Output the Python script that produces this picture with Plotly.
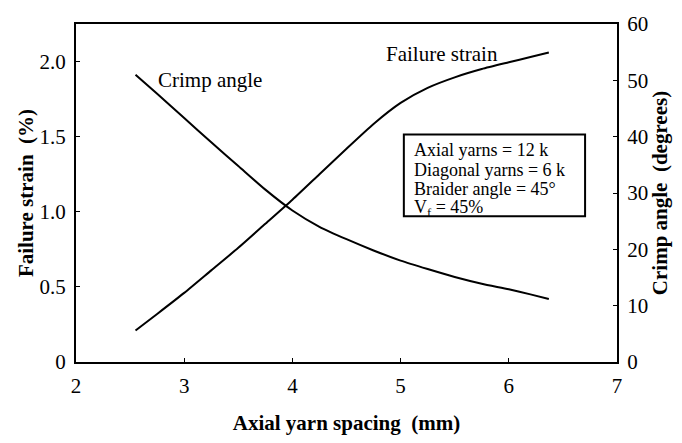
import plotly.graph_objects as go

# Axial yarn spacing (mm)
spacing = [2.55, 2.75, 3.0, 3.25, 3.5, 3.75, 4.0, 4.25, 4.5, 4.75, 5.0, 5.25, 5.5, 5.75, 6.0, 6.2, 6.37]
# Failure strain (%)
failure_strain = [0.21, 0.32, 0.46, 0.61, 0.76, 0.92, 1.08, 1.25, 1.42, 1.585, 1.725, 1.825, 1.895, 1.95, 1.995, 2.03, 2.06]
# Crimp angle (degrees)
crimp_angle = [51.0, 47.6, 43.3, 39.0, 34.8, 30.6, 26.9, 24.0, 21.8, 19.8, 18.0, 16.5, 15.1, 13.9, 12.9, 12.0, 11.2]

x_ticks = [2, 3, 4, 5, 6, 7]
strain_ticks = [0, 0.5, 1.0, 1.5, 2.0]
strain_tick_text = ["0", "0.5", "1.0", "1.5", "2.0"]
angle_ticks = [0, 10, 20, 30, 40, 50, 60]

info_lines = [
    "Axial yarns = 12 k",
    "Diagonal yarns = 6 k",
    "Braider angle = 45°",
    "V<sub>f</sub> = 45%",
]

SERIF = "Liberation Serif, Times New Roman, serif"

fig = go.Figure()
fig.add_trace(go.Scatter(
    x=spacing, y=failure_strain, mode="lines", yaxis="y",
    line=dict(color="black", width=2, shape="spline", smoothing=0.6),
    showlegend=False, hoverinfo="skip",
))
fig.add_trace(go.Scatter(
    x=spacing, y=crimp_angle, mode="lines", yaxis="y2",
    line=dict(color="black", width=2, shape="spline", smoothing=0.6),
    showlegend=False, hoverinfo="skip",
))

axis_common = dict(
    showgrid=False, zeroline=False, showline=True, linecolor="black", linewidth=2,
    ticks="inside", ticklen=4, tickwidth=1, tickcolor="black",
    tickfont=dict(family=SERIF, size=21, color="black"),
)

fig.update_layout(
    width=682, height=443,
    margin=dict(l=76, r=65, t=20, b=77),
    paper_bgcolor="white", plot_bgcolor="white",
    font=dict(family=SERIF, color="black"),
    xaxis=dict(
        **axis_common, range=[2, 7], tickvals=x_ticks, mirror=True,
        ticklabelstandoff=4,
        title=dict(text="<b>Axial yarn spacing&nbsp; (mm)</b>", standoff=18,
                   font=dict(family=SERIF, size=21, color="black")),
    ),
    yaxis=dict(
        **axis_common, range=[0, 2.25], tickvals=strain_ticks, ticktext=strain_tick_text,
        ticklabelstandoff=4,
        title=dict(text="<b>Failure strain&nbsp; (%)</b>", standoff=0,
                   font=dict(family=SERIF, size=21, color="black")),
    ),
    yaxis2=dict(
        **axis_common, range=[0, 60], tickvals=angle_ticks, overlaying="y", side="right",
        ticklabelstandoff=4,
        title=dict(text="<b>Crimp angle&nbsp; (degrees)</b>", standoff=5,
                   font=dict(family=SERIF, size=21, color="black")),
    ),
)

# Curve labels
fig.add_annotation(x=2.74, y=1.88, xref="x", yref="y", text="Crimp angle",
                   showarrow=False, xanchor="left", yanchor="middle",
                   font=dict(family=SERIF, size=21, color="black"))
fig.add_annotation(x=4.85, y=2.05, xref="x", yref="y", text="Failure strain",
                   showarrow=False, xanchor="left", yanchor="middle",
                   font=dict(family=SERIF, size=21, color="black"))

# Parameter box
fig.add_shape(type="rect", xref="paper", yref="paper",
              x0=0.606, x1=0.941, y0=0.431, y1=0.673,
              line=dict(color="black", width=2), fillcolor="white", layer="above")
line_y = [0.627, 0.568, 0.511, 0.455]
for text, yy in zip(info_lines, line_y):
    fig.add_annotation(x=0.621, y=yy, xref="paper", yref="paper",
                       text=text, showarrow=False,
                       xanchor="left", yanchor="middle", align="left",
                       font=dict(family=SERIF, size=18, color="black"))

fig.write_html("out.html")
